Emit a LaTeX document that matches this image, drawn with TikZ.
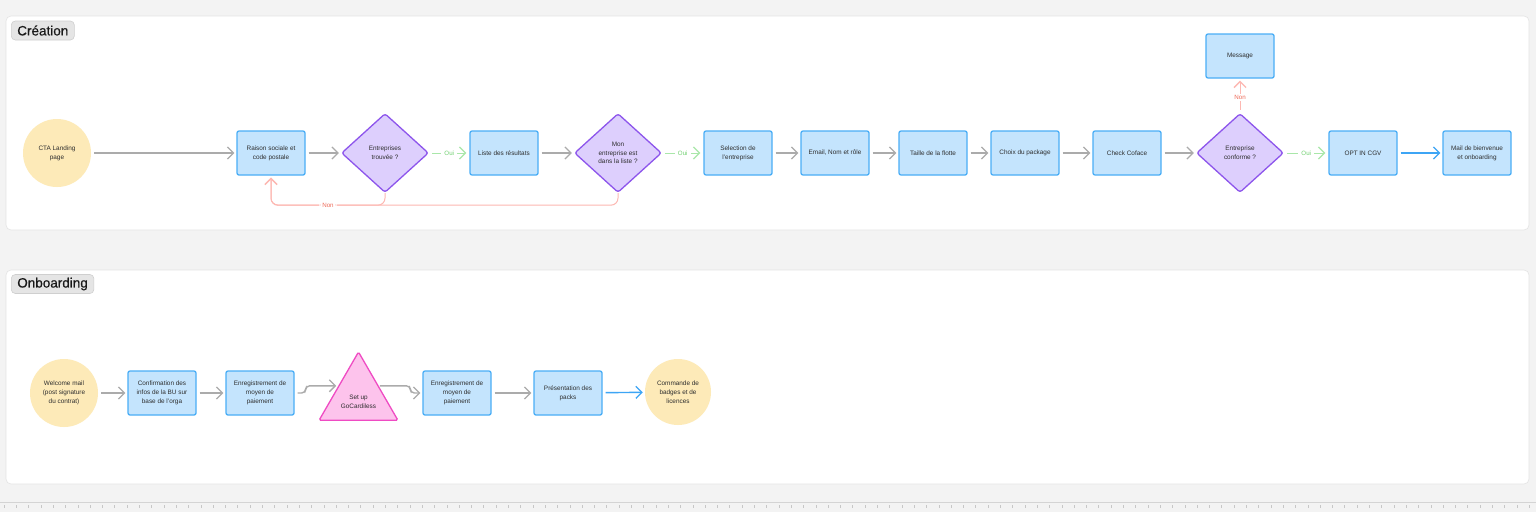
\documentclass[tikz,border=0pt]{standalone}
\usepackage{fontspec}
\setmainfont{Liberation Sans}
\newfontfamily\tagfont[FakeBold=0.5]{Liberation Sans}
\usetikzlibrary{arrows.meta,shapes.geometric,calc}
\definecolor{bgc}{HTML}{F3F3F3}
\definecolor{panelborder}{HTML}{E4E4E4}
\definecolor{boxfill}{HTML}{C4E4FD}
\definecolor{boxdraw}{HTML}{4AAEF6}
\definecolor{diafill}{HTML}{DDCFFD}
\definecolor{diadraw}{HTML}{8D55EC}
\definecolor{yel}{HTML}{FDEAB8}
\definecolor{trifill}{HTML}{FDC3EC}
\definecolor{tridraw}{HTML}{EF4BC3}
\definecolor{arrgray}{HTML}{ABABAB}
\definecolor{arrblue}{HTML}{3DA5F5}
\definecolor{ouigreen}{HTML}{A9E7A9}
\definecolor{ouitext}{HTML}{6FD06F}
\definecolor{nonpink}{HTML}{FDB8B2}
\definecolor{nontext}{HTML}{EE6A58}
\definecolor{txt}{HTML}{2E2E2E}
\definecolor{tagfill}{HTML}{E5E5E5}
\definecolor{tagdraw}{HTML}{CFCFCF}
\tikzset{
  lbl/.style={font=\fontsize{6.4}{8.8}\selectfont, text=txt, align=center},
  panel/.style={fill=white, draw=panelborder, line width=0.6pt, rounded corners=5pt},
  tag/.style={fill=tagfill, draw=tagdraw, line width=0.6pt, rounded corners=4pt, font=\tagfont\fontsize{13.5}{15}\selectfont, text=black!90, inner xsep=6pt, inner ysep=0pt, minimum height=19pt},
  stepbox/.style={lbl, rectangle, rounded corners=2pt, fill=boxfill, draw=boxdraw, line width=1.3pt, minimum width=68pt, minimum height=44pt, inner sep=1pt},
  decision/.style={lbl, diamond, rounded corners=2.5pt, fill=diafill, draw=diadraw, line width=1.3pt, minimum width=87pt, minimum height=79pt, inner sep=0pt},
  terminal/.style={lbl, circle, fill=yel, draw=none, minimum size=68pt, inner sep=0pt},
  gocard/.style={regular polygon, regular polygon sides=3, rounded corners=1.5pt, fill=trifill, draw=tridraw, line width=1.3pt, minimum size=91pt, inner sep=0pt},
  tip/.style={-{Straight Barb[length=6pt,width=12pt,line width=1.3pt]}},
  flow/.style={tip, draw=arrgray, line width=1.4pt, shorten <=3pt, shorten >=2pt},
  blueflow/.style={tip, draw=arrblue, line width=1.4pt, shorten <=3pt, shorten >=2pt},
  oui/.style={tip, draw=ouigreen, line width=1pt, shorten <=3pt, shorten >=3pt},
  non/.style={tip, draw=nonpink, line width=1pt, shorten >=2pt},
  ouilbl/.style={font=\fontsize{6.2}{7}\selectfont, text=ouitext, fill=white, inner xsep=3pt, inner ysep=1pt},
  nonlbl/.style={font=\fontsize{6.2}{7}\selectfont, text=nontext, fill=white, inner xsep=3pt, inner ysep=1pt},
}
\begin{document}
\begin{tikzpicture}[x=1pt,y=-1pt]
\fill[bgc] (0,0) rectangle (1536,512);
\useasboundingbox (0,0) rectangle (1536,512);
% panels
\draw[panel] (6,16) rectangle (1529,230);
\draw[panel] (6,270) rectangle (1529,484);
\node[tag, anchor=west] (tcre) at (11,30.5) {Création};
\node[tag, anchor=west] (tonb) at (11,284) {Onboarding};
% ruler
\draw[line width=1.4pt, draw=black!17] (0,502.5) -- (1536,502.5);
\foreach \i in {0,...,125} {
  \draw[line width=0.5pt, draw=black!22] ({4+\i*12.3},505) -- ({4+\i*12.3},508);
}
% ---- Creation ----
\node[terminal] (cta) at (57,153) {CTA Landing\\page};
\node[stepbox] (raison) at (271,153) {Raison sociale et\\code postale};
\node[decision] (d1) at (385,153) {Entreprises\\trouvée ?};
\node[stepbox] (liste) at (504,153) {Liste des résultats};
\node[decision] (d2) at (618,153) {Mon\\entreprise est\\dans la liste ?};
\node[stepbox] (sel) at (738,153) {Selection de\\l'entreprise};
\node[stepbox] (email) at (835,153) {Email, Nom et rôle};
\node[stepbox] (taille) at (933,153) {Taille de la flotte};
\node[stepbox] (choix) at (1025,153) {Choix du package};
\node[stepbox] (check) at (1127,153) {Check Coface};
\node[decision] (d3) at (1240,153) {Entreprise\\conforme ?};
\node[stepbox] (msg) at (1240,56) {Message};
\node[stepbox] (opt) at (1363,153) {OPT IN CGV};
\node[stepbox] (mail) at (1477,153) {Mail de bienvenue\\et onboarding};
\draw[flow] (cta) -- (raison);
\draw[flow] (raison) -- (d1);
\draw[oui] (d1) -- node[ouilbl] {Oui} (liste);
\draw[flow] (liste) -- (d2);
\draw[oui] (d2) -- node[ouilbl] {Oui} (sel);
\draw[flow] (sel) -- (email);
\draw[flow] (email) -- (taille);
\draw[flow] (taille) -- (choix);
\draw[flow] (choix) -- (check);
\draw[flow] (check) -- (d3);
\draw[oui] (d3) -- node[ouilbl] {Oui} (opt);
\draw[blueflow] (opt) -- (mail);
\draw[non, shorten <=3pt] (d3) -- node[nonlbl, pos=0.45] {Non} (msg);
\draw[non, rounded corners=7pt] (d2.south) -- ++(0,12) -| (raison.south);
\draw[non, rounded corners=7pt] (d1.south) -- ++(0,12) -| node[nonlbl, pos=0.25] {Non} (raison.south);
% ---- Onboarding ----
\node[terminal] (wel) at (64,393) {Welcome mail\\(post signature\\du contrat)};
\node[stepbox] (conf) at (162,393) {Confirmation des\\infos de la BU sur\\base de l'orga};
\node[stepbox] (enr1) at (260,393) {Enregistrement de\\moyen de\\paiement};
\node[gocard] (tri) at (358.5,397.5) {};
\node[lbl] (tritext) at (358.5,402) {Set up\\GoCardiless};
\node[stepbox] (enr2) at (457,393) {Enregistrement de\\moyen de\\paiement};
\node[stepbox] (pres) at (568,393) {Présentation des\\packs};
\node[terminal, minimum size=66pt] (cmd) at (678,392) {Commande de\\badges et de\\licences};
\draw[flow] (wel) -- (conf);
\draw[flow] (conf) -- (enr1);
\draw[flow, rounded corners=4pt] (enr1.east) -- ++(11,0) |- (tri.side 1);
\draw[flow, rounded corners=4pt, shorten <=1pt] (tri.side 3) -| ([xshift=-12pt]enr2.west) -- (enr2.west);
\draw[flow] (enr2) -- (pres);
\draw[blueflow] (pres) -- (cmd);
\end{tikzpicture}
\end{document}
